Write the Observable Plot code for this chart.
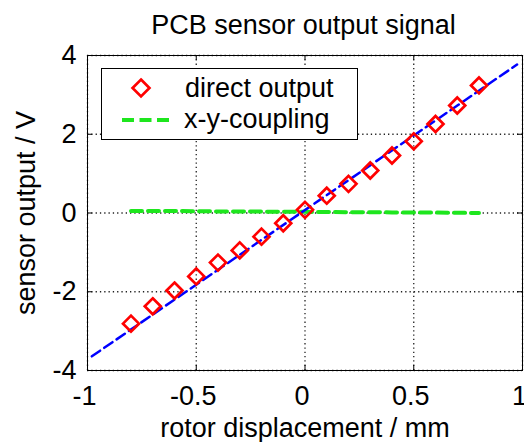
<!DOCTYPE html>
<html>
<head>
<meta charset="utf-8">
<script src="https://cdn.jsdelivr.net/npm/d3@7"></script>
<script src="https://cdn.jsdelivr.net/npm/@observablehq/plot@0.6"></script>
<style>
  body { margin: 0; background: #fff; font-family: "Liberation Sans", Arial, sans-serif; }
  #wrap { position: relative; width: 524px; height: 442px; overflow: hidden; background: #fff; }
  #title { height: 44px; box-sizing: border-box; padding-top: 9px; padding-left: 83px; line-height: 32px;
           font-size: 27px; text-align: center; color: #000; white-space: nowrap; }
  #legend { position: absolute; left: 101px; top: 68px; width: 257px; height: 72px; box-sizing: border-box;
            border: 1px solid #000; background: #fff; }
  #legend svg { display: block; }
</style>
</head>
<body>
<div id="wrap">
  <div id="title">PCB sensor output signal</div>
  <div id="chart"></div>
  <div id="legend"></div>
</div>
<script>
// ---- data ----
const displacement   = [-0.8, -0.7, -0.6, -0.5, -0.4, -0.3, -0.2, -0.1, 0, 0.1, 0.2, 0.3, 0.4, 0.5, 0.6, 0.7, 0.8];
const directOutput   = [-2.81, -2.37, -1.97, -1.61, -1.26, -0.95, -0.60, -0.26, 0.08, 0.44, 0.74, 1.08, 1.46, 1.82, 2.26, 2.73, 3.24];
const couplingOutput = [0.05, 0.05, 0.05, 0.045, 0.04, 0.04, 0.035, 0.03, 0.03, 0.025, 0.02, 0.02, 0.015, 0.01, 0.01, 0.005, 0.0];
const fitX = [-0.98, 0.975];
const fitY = [-3.64, 3.77];
const xTicks = [-1, -0.5, 0, 0.5, 1];
const yTicks = [-4, -2, 0, 2, 4];
const legendLabels = ["direct output", "x-y-coupling"];

const FONT = '"Liberation Sans", Arial, sans-serif';
const RED = "#ff0000", GREEN = "#1ee61e", BLUE = "#0000ff";

const W = 524, H = 398, mT = 11, mB = 72, mL = 87, mR = 2;
const innerH = H - mT - mB, innerW = W - mL - mR;

const chart = Plot.plot({
  width: W, height: H,
  marginTop: mT, marginBottom: mB, marginLeft: mL, marginRight: mR,
  style: { fontFamily: FONT, fontSize: "27px", color: "#000", background: "#fff", overflow: "visible" },
  x: { domain: [-1, 1] },
  y: { domain: [-4, 4] },
  marks: [
    Plot.ruleX(xTicks, { x: d => d, stroke: "#222", strokeWidth: 1.3, strokeDasharray: "1.3,3" }),
    Plot.ruleY(yTicks, { y: d => d, stroke: "#222", strokeWidth: 1.3, strokeDasharray: "1.3,3" }),
    Plot.line(displacement, { x: displacement, y: couplingOutput, stroke: GREEN, strokeWidth: 4, strokeDasharray: "11,6" }),
    Plot.line(fitX, { x: fitX, y: fitY, stroke: BLUE, strokeWidth: 2.5, strokeDasharray: "10,5" }),
    Plot.dot(displacement, { x: displacement, y: directOutput, symbol: "diamond2", r: 7.2, stroke: RED, strokeWidth: 2.7, fill: "none" }),
    Plot.frame({ stroke: "#000", strokeWidth: 1 }),
    Plot.tickX(xTicks, { x: d => d, stroke: "#000", insetTop: innerH - 5 }),
    Plot.tickX(xTicks, { x: d => d, stroke: "#000", insetBottom: innerH - 5 }),
    Plot.tickY(yTicks, { y: d => d, stroke: "#000", insetRight: innerW - 5 }),
    Plot.tickY(yTicks, { y: d => d, stroke: "#000", insetLeft: innerW - 5 }),
    Plot.axisX(xTicks, { tickSize: 0, tickPadding: 15, tickFormat: d => String(d), fontSize: 27, dx: -3,
      label: null }),
    Plot.axisX({ ticks: [], tickSize: 0, fontSize: 27,
      label: "rotor displacement / mm", labelAnchor: "center", labelArrow: false, labelOffset: 66 }),
    Plot.axisY(yTicks, { tickSize: 0, tickPadding: 11, tickFormat: d => String(d), fontSize: 27,
      label: "sensor output / V", labelAnchor: "center", labelArrow: false, labelOffset: 72 })
  ]
});
document.getElementById("chart").appendChild(chart);

// ---- legend ----
const lg = d3.select("#legend").append("svg").attr("width", 255).attr("height", 70)
  .style("font-family", FONT).style("font-size", "27px");
const diamond = d3.symbol(d3.symbolDiamond2, Math.PI * 7.6 * 7.6)();
lg.append("path").attr("d", diamond).attr("transform", "translate(39,19)")
  .attr("fill", "none").attr("stroke", RED).attr("stroke-width", 2.7);
lg.append("line").attr("x1", 20).attr("x2", 67).attr("y1", 51).attr("y2", 51)
  .attr("stroke", GREEN).attr("stroke-width", 4).attr("stroke-dasharray", "12,5.5");
lg.append("text").attr("x", 83).attr("y", 28).text(legendLabels[0]);
lg.append("text").attr("x", 82).attr("y", 59).text(legendLabels[1]);
</script>
</body>
</html>
